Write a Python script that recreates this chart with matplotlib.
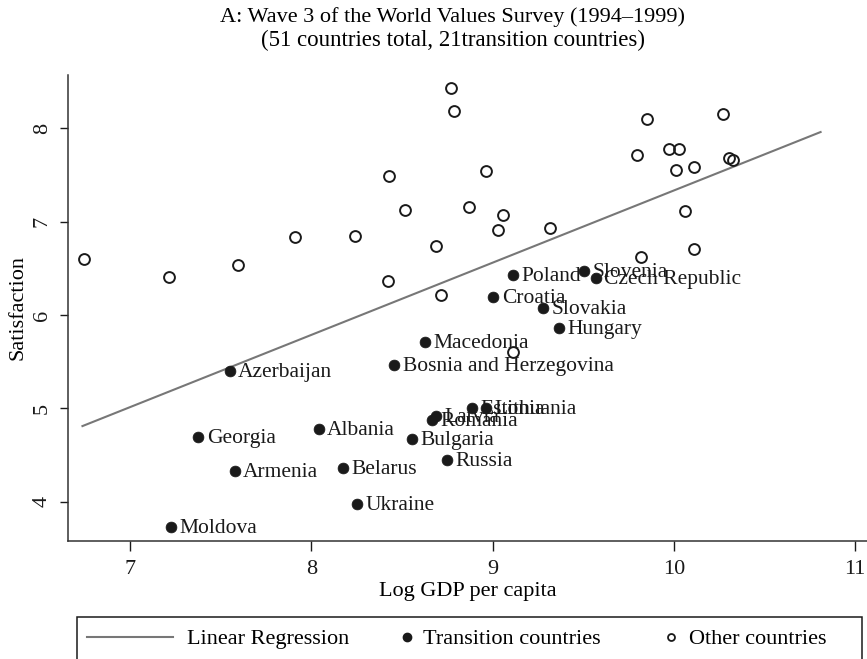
import matplotlib
matplotlib.use('Agg')
import matplotlib.pyplot as plt
from matplotlib.lines import Line2D
from matplotlib.patches import Rectangle

plt.rcParams['font.family'] = ['Liberation Serif', 'DejaVu Serif']

# transition countries
trans_names = ['Poland', 'Slovenia', 'Czech Republic', 'Croatia', 'Slovakia', 'Hungary',
               'Macedonia', 'Bosnia and Herzegovina', 'Azerbaijan', 'Estonia', 'Lithuania',
               'Latvia', 'Romania', 'Bulgaria', 'Russia', 'Albania', 'Georgia', 'Armenia',
               'Belarus', 'Ukraine', 'Moldova']
trans_gdp = [9.115, 9.504, 9.571, 9.004, 9.278, 9.368, 8.626, 8.458, 7.549, 8.886, 8.963,
             8.689, 8.667, 8.557, 8.751, 8.040, 7.377, 7.579, 8.176, 8.253, 7.229]
trans_sat = [6.43, 6.475, 6.40, 6.19, 6.075, 5.86, 5.71, 5.46, 5.40, 5.00, 5.00,
             4.92, 4.87, 4.67, 4.45, 4.78, 4.69, 4.33, 4.36, 3.97, 3.73]

# other countries
other_gdp = [6.747, 7.214, 7.595, 7.912, 8.243, 8.429, 8.515, 8.423, 8.689, 8.716,
             8.773, 8.789, 8.963, 8.872, 9.055, 9.029, 9.317, 9.853, 10.269, 9.795,
             9.971, 10.027, 10.011, 10.112, 10.302, 10.328, 10.060, 10.112, 9.821, 9.110]
other_sat = [6.60, 6.41, 6.54, 6.84, 6.85, 7.49, 7.13, 6.36, 6.74, 6.21,
             8.43, 8.19, 7.54, 7.16, 7.07, 6.91, 6.93, 8.10, 8.15, 7.71,
             7.78, 7.78, 7.55, 7.59, 7.68, 7.66, 7.11, 6.71, 6.62, 5.60]

# fitted line end points
reg_x = [6.738, 10.809]
reg_y = [4.81, 7.96]

W, H = 867, 659
fig = plt.figure(figsize=(W / 100, H / 100), dpi=100)
ax = fig.add_axes([0.0788, 0.1795, 0.9212, 0.7067])

ax.plot(reg_x, reg_y, '-', color='#777777', lw=1.5, zorder=2)
ax.plot(other_gdp, other_sat, 'o', ms=7.8, mfc='none', mec='#1a1a1a', mew=1.4, zorder=3)
ax.plot(trans_gdp, trans_sat, 'o', ms=7.8, mfc='#1a1a1a', mec='#1a1a1a', mew=0.5, zorder=3)

for n, gx, sy in zip(trans_names, trans_gdp, trans_sat):
    ax.annotate(n, (gx, sy), xytext=(6, -1), textcoords='offset points',
                va='center', ha='left', fontsize=15.5, color='#1a1a1a')

ax.set_xlim(6.66, 11.065)
ax.set_ylim(3.582, 8.571)
ax.set_xticks([7, 8, 9, 10, 11])
ax.set_yticks([4, 5, 6, 7, 8])
ax.tick_params(axis='x', length=7, width=1, labelsize=16, pad=7, colors='#1a1a1a')
ax.tick_params(axis='y', length=6, width=1, labelsize=16, pad=6, colors='#1a1a1a')
for lab in ax.get_yticklabels():
    lab.set_rotation(90)
    lab.set_va('center')
for s in ['top', 'right']:
    ax.spines[s].set_visible(False)
for s in ['left', 'bottom']:
    ax.spines[s].set_linewidth(1.1)
    ax.spines[s].set_color('#333333')

ax.set_xlabel('Log GDP per capita', fontsize=16, labelpad=2)
ax.set_ylabel('Satisfaction', fontsize=16, labelpad=4)

fig.text(453 / W, 1 - 17 / H, 'A: Wave 3 of the World Values Survey (1994\u20131999)',
         ha='center', va='center', fontsize=16)
fig.text(453 / W, 1 - 40 / H, '(51 countries total, 21transition countries)',
         ha='center', va='center', fontsize=16.5)

# legend box, drawn by hand (runs off the bottom edge like the original)
ly = 1 - 637 / H
fig.add_artist(Rectangle((77 / W, -0.02), (862 - 77) / W, 1 - 617 / H + 0.02,
                         transform=fig.transFigure, fill=False, ec='#1a1a1a', lw=1.1))
fig.add_artist(Line2D([87 / W, 173 / W], [ly, ly], transform=fig.transFigure,
                      color='#777777', lw=1.5))
fig.add_artist(Line2D([407 / W], [ly], transform=fig.transFigure, ls='none', marker='o',
                      ms=6, mfc='#1a1a1a', mec='#1a1a1a'))
fig.add_artist(Line2D([671 / W], [ly], transform=fig.transFigure, ls='none', marker='o',
                      ms=5, mfc='none', mec='#1a1a1a', mew=1.3))
fig.text(187 / W, ly - 0.004, 'Linear Regression', ha='left', va='center', fontsize=16)
fig.text(423 / W, ly - 0.004, 'Transition countries', ha='left', va='center', fontsize=16)
fig.text(689 / W, ly - 0.004, 'Other countries', ha='left', va='center', fontsize=16)

fig.savefig('out.png', dpi=100)
